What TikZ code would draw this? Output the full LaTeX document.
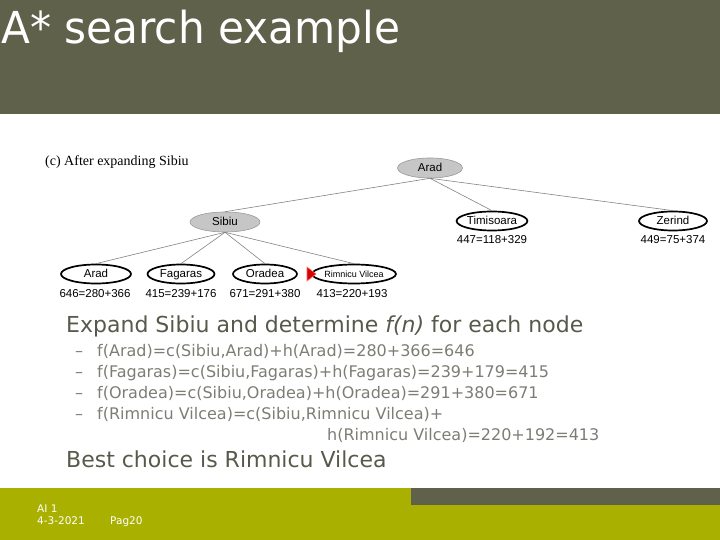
\documentclass[tikz,border=0pt]{standalone}
\usepackage{fontspec}
\setmainfont{DejaVu Sans}
\newfontfamily\titlefont[FakeStretch=0.96]{DejaVu Sans}
\newfontfamily\treefont{Liberation Sans}
\newfontfamily\capfont{Liberation Serif}
\usetikzlibrary{shapes.geometric}
\definecolor{hdr}{RGB}{95,97,75}
\definecolor{foot}{RGB}{170,176,0}
\definecolor{bodyc}{RGB}{88,89,74}
\definecolor{itemc}{RGB}{125,125,118}
\definecolor{edgec}{RGB}{130,130,130}
\begin{document}
\begin{tikzpicture}[x=1pt,y=-1pt,
  inner/.style={ellipse,draw=gray!80,fill=gray!45,line width=0.6pt,minimum height=20pt,inner sep=0pt,text height=8.5pt,text depth=1.5pt,font=\treefont\fontsize{11.5}{12}\selectfont},
  leaf/.style={ellipse,draw=black,line width=1.7pt,fill=white,minimum height=19pt,inner sep=0pt,text height=8.5pt,text depth=1.5pt,font=\treefont\fontsize{11.5}{12}\selectfont},
  fval/.style={inner sep=0pt,font=\treefont\fontsize{11.5}{13}\selectfont},
  edge/.style={draw=edgec,line width=0.6pt},
  body/.style={anchor=base west,inner sep=0pt,text=bodyc,font=\fontsize{22}{24}\selectfont},
  item/.style={anchor=base west,inner sep=0pt,text=itemc,font=\fontsize{16}{18}\selectfont},
  foottext/.style={anchor=base west,inner sep=0pt,text=white,font=\fontsize{10.5}{12}\selectfont}]
\useasboundingbox (0,0) rectangle (720,540);
% header and footer bands
\fill[hdr] (0,0) rectangle (720,114);
\fill[foot] (0,488) rectangle (720,540);
\fill[hdr] (411,488) rectangle (720,505);
\node[anchor=base west,inner sep=0pt,text=white,font=\titlefont\fontsize{44}{50}\selectfont] (title) at (1,44) {A* search example};
% tree caption
\node[anchor=west,inner sep=0pt,font=\capfont\fontsize{14}{16}\selectfont] (cap) at (45,162) {(c) After expanding Sibiu};
% tree nodes
\node[inner,minimum width=65pt] (root) at (430,168) {Arad};
\node[inner,minimum width=70pt] (sibiu) at (225,222) {Sibiu};
\node[leaf,minimum width=69pt] (tim) at (492,221) {Timisoara};
\node[leaf,minimum width=68pt] (zer) at (673,221) {Zerind};
\node[leaf,minimum width=70pt] (arad) at (96,274) {Arad};
\node[leaf,minimum width=67pt] (fag) at (181,274) {Fagaras};
\node[leaf,minimum width=64pt] (ora) at (265,274) {Oradea};
\node[leaf,minimum width=71pt,font=\treefont\fontsize{9}{10}\selectfont,text height=7pt,text depth=1pt] (rim) at (354,274) {Rimnicu Vilcea};
% f-values
\node[fval] (ftim) at (492,240) {447=118+329};
\node[fval] (fzer) at (673,240) {449=75+374};
\node[fval] (farad) at (95,294) {646=280+366};
\node[fval] (ffag) at (181,294) {415=239+176};
\node[fval] (fora) at (265,294) {671=291+380};
\node[fval] (frim) at (352,294) {413=220+193};
% edges
\draw[edge] (root.south) -- (sibiu.north);
\draw[edge] (root.south) -- (tim.north);
\draw[edge] (root.south) -- (zer.north);
\draw[edge] (sibiu.south) -- (arad.north);
\draw[edge] (sibiu.south) -- (fag.north);
\draw[edge] (sibiu.south) -- (ora.north);
\draw[edge] (sibiu.south) -- (rim.north);
% red marker
\filldraw[fill=red!85!black,draw=red!60,line width=0.6pt] (307,267) -- (316,274) -- (307,281) -- cycle;
% body text
\node[body] (expand) at (66,332) {Expand Sibiu and determine \textit{f(n)} for each node};
\node[item] (d1) at (75,356) {--};
\node[item] (t1) at (97,356) {f(Arad)=c(Sibiu,Arad)+h(Arad)=280+366=646};
\node[item] (d2) at (75,377) {--};
\node[item] (t2) at (97,377) {f(Fagaras)=c(Sibiu,Fagaras)+h(Fagaras)=239+179=415};
\node[item] (d3) at (75,398) {--};
\node[item] (t3) at (97,398) {f(Oradea)=c(Sibiu,Oradea)+h(Oradea)=291+380=671};
\node[item] (d4) at (75,419) {--};
\node[item] (t4) at (97,419) {f(Rimnicu Vilcea)=c(Sibiu,Rimnicu Vilcea)+};
\node[item] (t5) at (327,440) {h(Rimnicu Vilcea)=220+192=413};
\node[body] (best) at (66,467) {Best choice is Rimnicu Vilcea};
% footer text
\node[foottext] (f1) at (37,512) {AI 1};
\node[foottext] (f2) at (37,524) {4-3-2021};
\node[foottext] (f3) at (110,524) {Pag20};
\end{tikzpicture}
\end{document}
